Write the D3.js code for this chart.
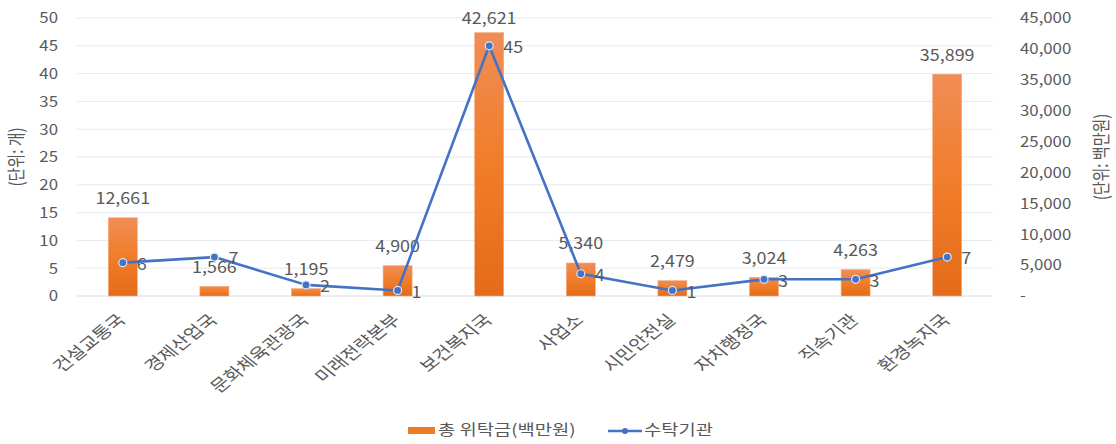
<!DOCTYPE html>
<html><head><meta charset="utf-8">
<script src="https://cdn.jsdelivr.net/npm/d3@7"></script>
<style>
html,body{margin:0;padding:0;background:#fff;}
text{font-family:"Noto Sans CJK KR","Noto Sans",sans-serif;fill:#595959;}
</style></head>
<body>
<svg id="chart" width="1116" height="444"></svg>
<script>
const categories = ["건설교통국","경제산업국","문화체육관광국","미래전략본부","보건복지국","사업소","시민안전실","자치행정국","직속기관","환경녹지국"];
const funds = [12661,1566,1195,4900,42621,5340,2479,3024,4263,35899];
const agencies = [6,7,2,1,45,4,1,3,3,7];
const leftTicks = [0,5,10,15,20,25,30,35,40,45,50];
const rightTicks = [0,5000,10000,15000,20000,25000,30000,35000,40000,45000];
const barName = "총 위탁금(백만원)";
const lineName = "수탁기관";
const leftTitle = "(단위: 개)";
const rightTitle = "(단위: 백만원)";

const svg = d3.select("#chart");
const W = 1116, H = 444;
const m = {left:77, right:W-993, top:18, bottom:H-296};
const SXK = 1.25;   // horizontal stretch for Korean text
const SXD = 1.12;   // horizontal stretch for digits
const x = d3.scaleBand().domain(categories).range([m.left, W-m.right]);
const yL = d3.scaleLinear().domain([0,50]).range([H-m.bottom, m.top]);
const yR = d3.scaleLinear().domain([0,45000]).range([H-m.bottom, m.top]);
const cx = c => x(c) + x.bandwidth()/2;

const defs = svg.append("defs");
const g = defs.append("linearGradient").attr("id","barGrad").attr("x1",0).attr("y1",0).attr("x2",0).attr("y2",1);
g.append("stop").attr("offset","0%").attr("stop-color","#f08d57");
g.append("stop").attr("offset","50%").attr("stop-color","#f07d29");
g.append("stop").attr("offset","100%").attr("stop-color","#e46b19");

// gridlines
svg.append("g").selectAll("line").data(leftTicks).join("line")
  .attr("x1",m.left).attr("x2",W-m.right)
  .attr("y1",d=>yL(d)).attr("y2",d=>yL(d))
  .attr("stroke",d=>d===0?"#d9dce3":"#e6e9ef").attr("stroke-width",1);

// left axis
const gL = svg.append("g").attr("transform",`translate(58,0)`)
  .call(d3.axisLeft(yL).tickValues(leftTicks).tickSize(0).tickPadding(0));
gL.select(".domain").remove();
gL.selectAll("text").style("font-size","15px").attr("fill","#595959").attr("font-family",null)
  .attr("transform",`scale(${SXD},1)`);

// right axis
const gR = svg.append("g").attr("transform",`translate(1020,0)`)
  .call(d3.axisRight(yR).tickValues(rightTicks).tickSize(0).tickPadding(0)
    .tickFormat(d=>d===0?"-":d3.format(",")(d)));
gR.select(".domain").remove();
gR.selectAll("text").style("font-size","15px").attr("fill","#595959").attr("font-family",null)
  .attr("transform",`scale(${SXD},1)`);

// axis titles
svg.append("text").attr("transform",`translate(18,${(yL(0)+yL(50))/2}) scale(${SXK},1) rotate(-90)`)
  .attr("text-anchor","middle").attr("dominant-baseline","middle")
  .style("font-size","15px").text(leftTitle);
svg.append("text").attr("transform",`translate(1103,${(yL(0)+yL(50))/2}) scale(${SXK},1) rotate(-90)`)
  .attr("text-anchor","middle").attr("dominant-baseline","middle")
  .style("font-size","15px").text(rightTitle);

// bars
const bw = 29;
svg.append("g").selectAll("rect").data(funds).join("rect")
  .attr("x",(d,i)=>cx(categories[i])-bw/2)
  .attr("width",bw)
  .attr("y",d=>yR(d)).attr("height",d=>yR(0)-yR(d))
  .attr("fill","url(#barGrad)").attr("stroke","#f4ab7e").attr("stroke-width",0.6);

// bar labels
svg.append("g").selectAll("text").data(funds).join("text")
  .attr("transform",(d,i)=>`translate(${cx(categories[i])},${Math.max(yR(d)-18,20)}) scale(${SXD},1)`)
  .attr("text-anchor","middle").attr("dominant-baseline","middle")
  .style("font-size","16px").text(d=>d3.format(",")(d));

// line
const line = d3.line().x((d,i)=>cx(categories[i])).y(d=>yL(d));
svg.append("path").datum(agencies).attr("d",line)
  .attr("fill","none").attr("stroke","#4472c4").attr("stroke-width",2.6).attr("stroke-linejoin","round");
svg.append("g").selectAll("circle").data(agencies).join("circle")
  .attr("cx",(d,i)=>cx(categories[i])).attr("cy",d=>yL(d)).attr("r",4)
  .attr("fill","#4472c4").attr("stroke","#dfe7f5").attr("stroke-width",1.2);
svg.append("g").selectAll("text").data(agencies).join("text")
  .attr("transform",(d,i)=>`translate(${cx(categories[i])+14},${yL(d)+3}) scale(${SXD},1)`)
  .attr("dominant-baseline","middle")
  .style("font-size","16px").text(d=>d);

// category labels
svg.append("g").selectAll("text").data(categories).join("text")
  .attr("transform",d=>`translate(${cx(d)+4},${yL(0)+25}) scale(${SXK},1) rotate(-45)`)
  .attr("text-anchor","end")
  .style("font-size","16px").text(d=>d);

// legend
const lg = svg.append("g");
lg.append("rect").attr("x",408).attr("y",427).attr("width",27).attr("height",7).attr("fill","#ef7b26");
lg.append("text").attr("transform",`translate(438,431) scale(${SXK},1)`).attr("dominant-baseline","middle")
  .style("font-size","15px").text(barName);
lg.append("line").attr("x1",608).attr("x2",642).attr("y1",431).attr("y2",431).attr("stroke","#4472c4").attr("stroke-width",2.6);
lg.append("circle").attr("cx",625).attr("cy",431).attr("r",3).attr("fill","#4472c4");
lg.append("text").attr("transform",`translate(644,431) scale(${SXK},1)`).attr("dominant-baseline","middle")
  .style("font-size","15px").text(lineName);
</script>
</body></html>
